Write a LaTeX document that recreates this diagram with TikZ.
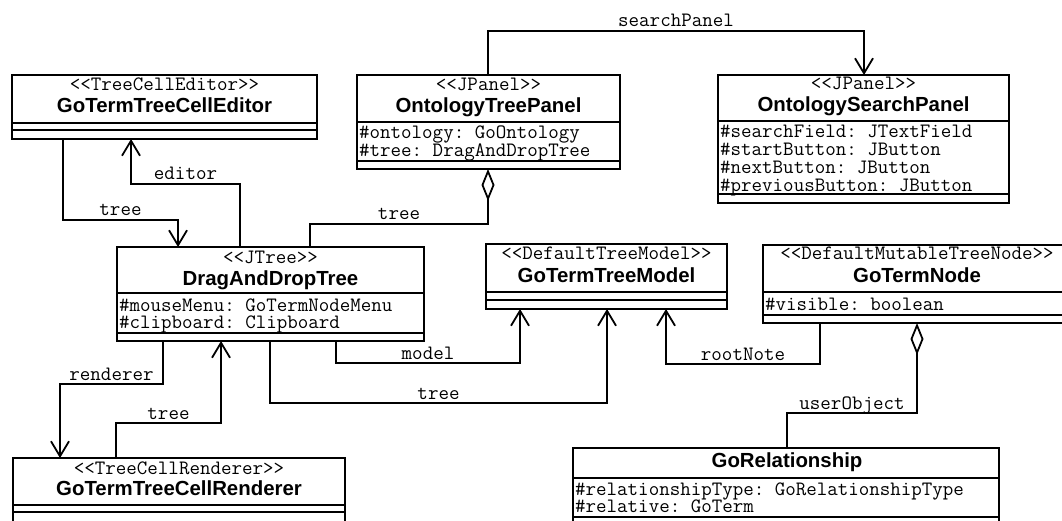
\documentclass[tikz,border=0pt]{standalone}
\usepackage{fontspec}
\newfontfamily\usans{Liberation Sans}
\usetikzlibrary{arrows.meta}
\newcommand\clsbox[5]{%
  \node[cls, minimum width={#4-#2}, minimum height={#5-#3}] (#1) at (#2,#3) {};}
\newcommand\attrs[1]{\begin{tabular}[t]{@{}l@{}}#1\end{tabular}}
\tikzset{
  cls/.style={draw, line width=1.8pt, inner sep=0pt, outer sep=0pt, anchor=north west},
  sect/.style={line width=1.8pt},
  mtxt/.style={font=\ttfamily\frenchspacing\fontsize{20.4}{17.5}\selectfont, inner sep=0pt, anchor=base},
  atxt/.style={mtxt, anchor=base west},
  ntxt/.style={font=\usans\bfseries\fontsize{20.4}{20.4}\selectfont, inner sep=0pt, anchor=base},
  assoc/.style={line width=1.8pt, -{Straight Barb[length=15pt,width=18pt,line width=1.8pt]}},
  aggr/.style={line width=1.8pt, {Diamond[open,length=32pt,width=13pt,line width=1.8pt,fill=white]}-},
  lbl/.style={mtxt, anchor=base, yshift=4pt},
}
\begin{document}
\begin{tikzpicture}[x=1pt,y=-1pt]
\useasboundingbox (0,0) rectangle (1062,521);
% boxes
\clsbox{editor}{12}{75}{317}{139}
\clsbox{otp}{357}{75}{620}{169}
\clsbox{osp}{718}{75}{1009}{203}
\clsbox{dnd}{117}{247}{424}{341}
\clsbox{model}{486}{244}{727}{309}
\clsbox{gtnode}{763}{245}{1075}{323}
\clsbox{rel}{573}{448}{999}{535}
\clsbox{rend}{13}{458}{345}{535}
% compartments
\draw[sect] (editor.west |- 0,123) -- (editor.east |- 0,123);
\draw[sect] (editor.west |- 0,130) -- (editor.east |- 0,130);
\draw[sect] (otp.west |- 0,122) -- (otp.east |- 0,122);
\draw[sect] (otp.west |- 0,161) -- (otp.east |- 0,161);
\draw[sect] (osp.west |- 0,121) -- (osp.east |- 0,121);
\draw[sect] (osp.west |- 0,194) -- (osp.east |- 0,194);
\draw[sect] (dnd.west |- 0,293) -- (dnd.east |- 0,293);
\draw[sect] (dnd.west |- 0,333) -- (dnd.east |- 0,333);
\draw[sect] (model.west |- 0,292) -- (model.east |- 0,292);
\draw[sect] (model.west |- 0,300) -- (model.east |- 0,300);
\draw[sect] (gtnode.west |- 0,292) -- (gtnode.east |- 0,292);
\draw[sect] (gtnode.west |- 0,315) -- (gtnode.east |- 0,315);
\draw[sect] (rel.west |- 0,478) -- (rel.east |- 0,478);
\draw[sect] (rel.west |- 0,517) -- (rel.east |- 0,517);
\draw[sect] (rend.west |- 0,505) -- (rend.east |- 0,505);
\draw[sect] (rend.west |- 0,512) -- (rend.east |- 0,512);
% texts
\node[mtxt] (editorS) at (164.5,91) {<<TreeCellEditor>>};
\node[ntxt] (editorN) at (164.5,113) {GoTermTreeCellEditor};
\node[mtxt] (otpS) at (488.5,91) {<<JPanel>>};
\node[ntxt] (otpN) at (488.5,113) {OntologyTreePanel};
\node[atxt] (otpA) at (359,139) {\attrs{\#ontology: GoOntology\\\#tree: DragAndDropTree}};
\node[mtxt] (ospS) at (863.5,90) {<<JPanel>>};
\node[ntxt] (ospN) at (863.5,112) {OntologySearchPanel};
\node[atxt] (ospA) at (720,138) {\attrs{\#searchField: JTextField\\\#startButton: JButton\\\#nextButton: JButton\\\#previousButton: JButton}};
\node[mtxt] (dndS) at (270.5,263) {<<JTree>>};
\node[ntxt] (dndN) at (270.5,285) {DragAndDropTree};
\node[atxt] (dndA) at (119,311) {\attrs{\#mouseMenu: GoTermNodeMenu\\\#clipboard: Clipboard}};
\node[mtxt] (modelS) at (606.5,260) {<<DefaultTreeModel>>};
\node[ntxt] (modelN) at (606.5,283) {GoTermTreeModel};
\node[mtxt] (gtnodeS) at (917,259) {<<DefaultMutableTreeNode>>};
\node[ntxt] (gtnodeN) at (917,283) {GoTermNode};
\node[atxt] (gtnodeA) at (765,310) {\#visible: boolean};
\node[ntxt] (relN) at (787,467) {GoRelationship};
\node[atxt] (relA) at (575,495) {\attrs{\#relationshipType: GoRelationshipType\\\#relative: GoTerm}};
\node[mtxt] (rendS) at (179,474) {<<TreeCellRenderer>>};
\node[ntxt] (rendN) at (179,495) {GoTermTreeCellRenderer};
% connectors
\draw[assoc] (editor.south -| 63,0) -- (63,220) -- node[lbl]{tree} (178,220) -- (dnd.north -| 178,0);
\draw[assoc] (dnd.north -| 240,0) -- (240,184) -- node[lbl]{editor} (131,184) -- (editor.south -| 131,0);
\draw[aggr] (otp.south -| 488,0) -- (488,224) -- node[lbl]{tree} (310,224) -- (dnd.north -| 310,0);
\draw[assoc] (otp.north -| 488,0) -- (488,31) -- node[lbl]{searchPanel} (864,31) -- (osp.north -| 864,0);
\draw[assoc] (dnd.south -| 336,0) -- (336,363) -- node[lbl]{model} (520,363) -- (model.south -| 520,0);
\draw[assoc] (dnd.south -| 270,0) -- (270,403) -- node[lbl]{tree} (607,403) -- (model.south -| 607,0);
\draw[assoc] (gtnode.south -| 820,0) -- (820,364) -- node[lbl]{rootNote} (666,364) -- (model.south -| 666,0);
\draw[aggr] (gtnode.south -| 917,0) -- (917,413) -- node[lbl]{userObject} (787,413) -- (rel.north -| 787,0);
\draw[assoc] (dnd.south -| 163,0) -- (163,384) -- node[lbl]{renderer} (60,384) -- (rend.north -| 60,0);
\draw[assoc] (rend.north -| 116,0) -- (116,423) -- node[lbl]{tree} (221,423) -- (dnd.south -| 221,0);
\end{tikzpicture}
\end{document}
